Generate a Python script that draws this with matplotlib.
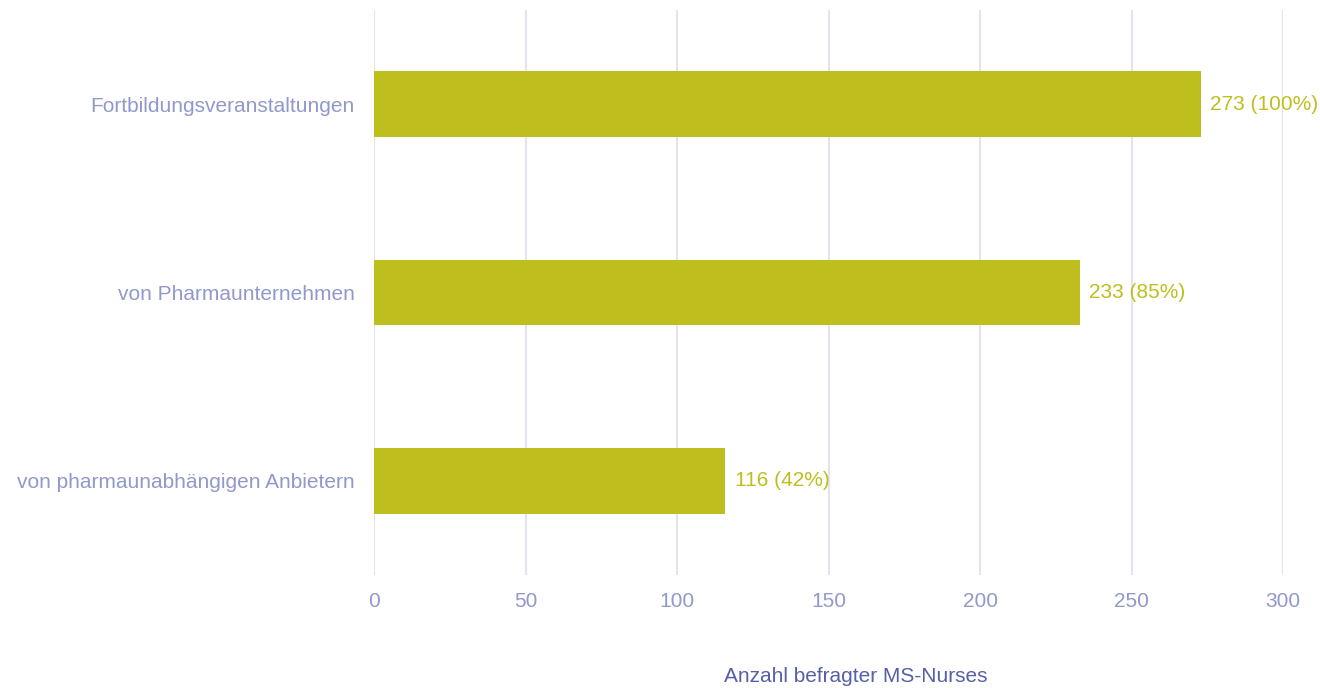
import matplotlib.pyplot as plt

# data
categories = ["Fortbildungsveranstaltungen", "von Pharmaunternehmen", "von pharmaunabhängigen Anbietern"]
counts = [273, 233, 116]
percents = [100, 85, 42]
x_ticks = [0, 50, 100, 150, 200, 250, 300]

bar_color = "#BEBE1E"
label_color = "#9198CB"
title_color = "#5660A8"
grid_color = "#E4E4F1"

plt.rcParams['font.family'] = ['Liberation Sans', 'DejaVu Sans']

fig = plt.figure(figsize=(13.2, 6.88), dpi=100)
ax = fig.add_axes([374 / 1320, 113 / 688, 909 / 1320, 565 / 688])

ypos = list(range(len(categories)))
ax.barh(ypos, counts, height=0.35, color=bar_color, zorder=2)

for y, c, p in zip(ypos, counts, percents):
    ax.text(c + 3, y, f"{c} ({p}%)", va="center", ha="left",
            color=bar_color, fontsize=15, zorder=3)

ax.set_xlim(0, 300)
ax.set_ylim(len(categories) - 0.5, -0.5)
ax.set_yticks(ypos)
ax.set_yticklabels(categories)
ax.set_xticks(x_ticks)

ax.grid(axis="x", color=grid_color, linewidth=1.5, zorder=1)
ax.set_axisbelow(True)
for s in ax.spines.values():
    s.set_visible(False)

ax.tick_params(axis="both", length=0, labelsize=15, labelcolor=label_color)
ax.tick_params(axis="x", pad=12)
ax.tick_params(axis="y", pad=14)

# axis title sits low, centred under the plot area
fig.text(856 / 1320, 1 - 677 / 688, "Anzahl befragter MS-Nurses",
         color=title_color, fontsize=15, ha="center", va="center")

fig.savefig("out.png", dpi=100, facecolor="white")
